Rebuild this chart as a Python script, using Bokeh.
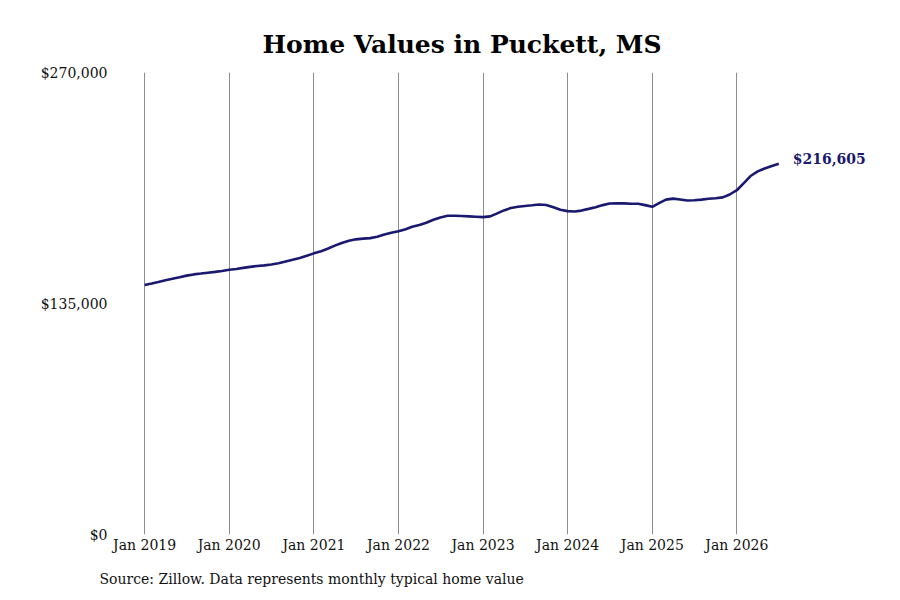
from datetime import datetime

import pandas as pd
from bokeh.embed import file_html
from bokeh.models import (ColumnDataSource, DatetimeTickFormatter, FixedTicker,
                          NumeralTickFormatter, Range1d, Title)
from bokeh.plotting import figure
from bokeh.resources import INLINE
from bokeh.core.properties import value

# Valeurs mensuelles (Jan 2019 -> Jul 2026), en dollars
home_values = [
    145800, 146700, 147600, 148600, 149500, 150400, 151300, 152000, 152500, 153000, 153500, 154000,
    154700, 155200, 155800, 156400, 156900, 157300, 157800, 158500, 159600, 160600, 161600, 162900,
    164300, 165500, 167000, 168800, 170400, 171700, 172500, 172900, 173200, 174000, 175300, 176300,
    177200, 178400, 179800, 180900, 182200, 183900, 185300, 186300, 186300, 186100, 185900, 185700,
    185500, 185900, 187500, 189400, 190800, 191500, 192000, 192400, 192900, 192600, 191200, 189800,
    189000, 188800, 189300, 190300, 191300, 192500, 193400, 193600, 193500, 193300, 193300, 192500,
    191500, 193800, 195700, 196300, 195800, 195200, 195300, 195700, 196200, 196500, 197000, 198700,
    201200, 205500, 209500, 212200, 213900, 215400, 216605,
]
dates = pd.date_range("2019-01-01", periods=len(home_values), freq="MS")
year_ticks = pd.date_range("2019-01-01", "2026-01-01", freq="YS")
y_ticks = [0, 135000, 270000]
last_label = "$216,605"

FONT = "DejaVu Serif"
NAVY = "#191970"

source = ColumnDataSource(data=dict(date=dates, val=home_values))

p = figure(width=884, height=600, x_axis_type="datetime",
           x_range=Range1d(datetime(2018, 11, 1), datetime(2027, 8, 1)),
           y_range=Range1d(0, 270000),
           output_backend="svg", toolbar_location=None,
           min_border_left=130, min_border_right=14,
           min_border_top=72, min_border_bottom=66)

p.title.text = "Home Values in Puckett, MS"
p.title.text_font = FONT
p.title.text_font_size = "25px"
p.title.text_font_style = "bold"
p.title.align = "left"
p.title.offset = 132
p.title.text_color = "#000000"
p.title.standoff = 27

p.line("date", "val", source=source, line_color=NAVY, line_width=2.6)
p.text(x=[dates[-1]], y=[home_values[-1]], text=[last_label], x_offset=14, y_offset=-5,
       text_font=value(FONT), text_font_size="14px", text_font_style="bold",
       text_color=NAVY, text_baseline="middle", text_align="left")

p.outline_line_color = None
p.ygrid.grid_line_color = None
p.xgrid.ticker = FixedTicker(ticks=[d.timestamp() * 1000 for d in year_ticks])
p.xgrid.grid_line_color = "#8c8c8c"
p.xgrid.grid_line_width = 1

p.xaxis.ticker = FixedTicker(ticks=[d.timestamp() * 1000 for d in year_ticks])
p.xaxis.formatter = DatetimeTickFormatter(years="%b %Y", months="%b %Y", days="%b %Y")
p.yaxis.ticker = FixedTicker(ticks=y_ticks)
p.yaxis.formatter = NumeralTickFormatter(format="$0,0")

for ax in (p.xaxis, p.yaxis):
    ax.axis_line_color = None
    ax.major_tick_line_color = None
    ax.minor_tick_line_color = None
    ax.major_label_text_font = FONT
    ax.major_label_text_font_size = "14px"
    ax.major_label_text_color = "#111111"
p.xaxis.major_label_standoff = -4
p.yaxis.major_label_standoff = 17

p.add_layout(Title(text="Source: Zillow. Data represents monthly typical home value",
                   text_font=FONT, text_font_size="14px", text_font_style="normal",
                   text_color="#111111", align="left", offset=-31, standoff=27), "below")

open("out.html", "w").write(file_html(p, INLINE))
